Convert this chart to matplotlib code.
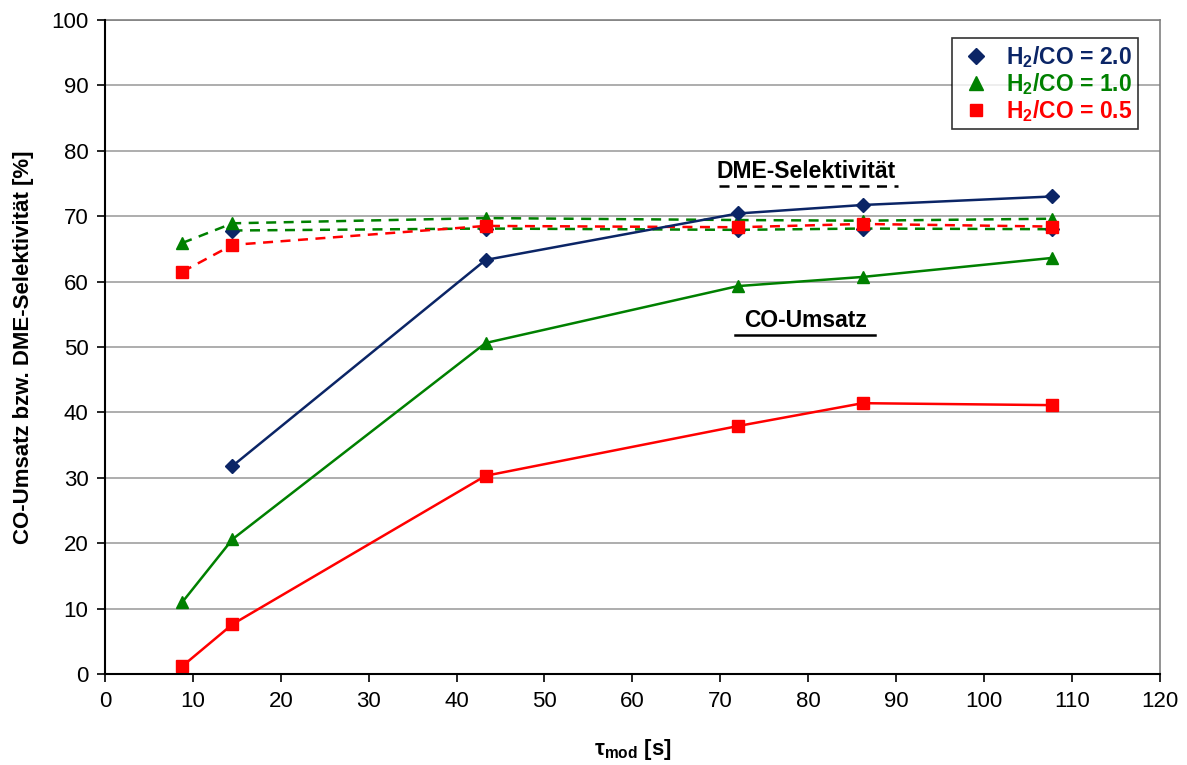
import matplotlib
matplotlib.use("Agg")
import matplotlib.pyplot as plt
from matplotlib.lines import Line2D

plt.rcParams['font.family'] = ['Liberation Sans', 'DejaVu Sans']
plt.rcParams['mathtext.fontset'] = 'custom'
plt.rcParams['mathtext.rm'] = 'Liberation Sans'
plt.rcParams['mathtext.bf'] = 'Liberation Sans:bold'

tau_20 = [14.5, 43.3, 72.0, 86.2, 107.7]
tau_10 = [8.8, 14.5, 43.3, 72.0, 86.2, 107.7]
tau_05 = [8.8, 14.5, 43.3, 72.0, 86.2, 107.7]

conv_20 = [31.8, 63.3, 70.4, 71.7, 73.0]
conv_10 = [11.0, 20.6, 50.6, 59.3, 60.7, 63.6]
conv_05 = [1.2, 7.6, 30.3, 37.9, 41.4, 41.1]

sel_20 = [67.8, 68.1, 67.9, 68.1, 68.0]
sel_10 = [65.9, 68.9, 69.7, 69.4, 69.3, 69.6]
sel_05 = [61.5, 65.6, 68.5, 68.3, 68.8, 68.4]

labels = ['H$_\\mathbf{2}$/CO = 2.0', 'H$_\\mathbf{2}$/CO = 1.0', 'H$_\\mathbf{2}$/CO = 0.5']

c_blue = '#0B2566'
c_green = '#008000'
c_red = '#FF0000'

fig = plt.figure(figsize=(11.87, 7.65), dpi=100)
ax = fig.add_axes([0.0885, 0.119, 0.8885, 0.855])

# selectivity (dashed)
ax.plot(tau_20, sel_20, '--', color=c_green, lw=1.8, dashes=(4, 3), zorder=2)
ax.plot(tau_10, sel_10, '--', color=c_green, lw=1.8, dashes=(4, 3), zorder=2)
ax.plot(tau_05, sel_05, '--', color=c_red, lw=1.8, dashes=(4, 3), zorder=2)
ax.plot(tau_20, sel_20, 'D', color=c_blue, ms=7, ls='none', zorder=3)
ax.plot(tau_10, sel_10, '^', color=c_green, ms=9, ls='none', zorder=3)
ax.plot(tau_05, sel_05, 's', color=c_red, ms=9, ls='none', zorder=4)

# conversion (solid)
ax.plot(tau_20, conv_20, '-D', color=c_blue, lw=1.8, ms=7, zorder=3)
ax.plot(tau_10, conv_10, '-^', color=c_green, lw=1.8, ms=9, zorder=3)
ax.plot(tau_05, conv_05, '-s', color=c_red, lw=1.8, ms=9, zorder=3)

ax.set_xlim(0, 120)
ax.set_ylim(0, 100)
ax.set_xticks(range(0, 121, 10))
ax.set_yticks(range(0, 101, 10))
ax.tick_params(labelsize=16, direction='out', length=6, width=1.2, pad=6)
ax.yaxis.grid(True, color='#A0A0A0', lw=1.2)
ax.set_axisbelow(True)
for s in ['top', 'right']:
    ax.spines[s].set_color('#808080')
    ax.spines[s].set_linewidth(1.2)
for s in ['left', 'bottom']:
    ax.spines[s].set_color('black')
    ax.spines[s].set_linewidth(1.5)
    ax.spines[s].set_zorder(5)

ax.set_xlabel(r'$\mathbf{\tau_{mod}}$ [s]', fontsize=16, fontweight='bold', labelpad=18)
ax.set_ylabel('CO-Umsatz bzw. DME-Selektivität [%]', fontsize=16, fontweight='bold', labelpad=12)

# annotations
ax.text(0.6645, 0.768, 'DME-Selektivität', transform=ax.transAxes, fontsize=16.5,
        fontweight='bold', ha='center', va='center')
ax.add_line(Line2D([0.582, 0.752], [0.746, 0.746], transform=ax.transAxes, color='black',
                   lw=1.8, ls=(0, (4, 3))))
ax.text(0.6645, 0.540, 'CO-Umsatz', transform=ax.transAxes, fontsize=16.5,
        fontweight='bold', ha='center', va='center')
ax.add_line(Line2D([0.597, 0.730], [0.518, 0.518], transform=ax.transAxes, color='black', lw=1.8))

handles = [Line2D([], [], marker='D', color=c_blue, ls='none', ms=8),
           Line2D([], [], marker='^', color=c_green, ls='none', ms=10),
           Line2D([], [], marker='s', color=c_red, ls='none', ms=9)]
leg = ax.legend(handles, labels, loc='upper right', bbox_to_anchor=(0.979, 0.9725),
                borderaxespad=0.0,
                prop={'size': 16.5, 'weight': 'bold'}, frameon=True, fancybox=False,
                edgecolor='black', handletextpad=0.5, borderpad=0.25, labelspacing=0.05,
                handlelength=1.6)
leg.get_frame().set_linewidth(1.2)
for t, c in zip(leg.get_texts(), [c_blue, c_green, c_red]):
    t.set_color(c)

fig.savefig('out.png', dpi=100)
